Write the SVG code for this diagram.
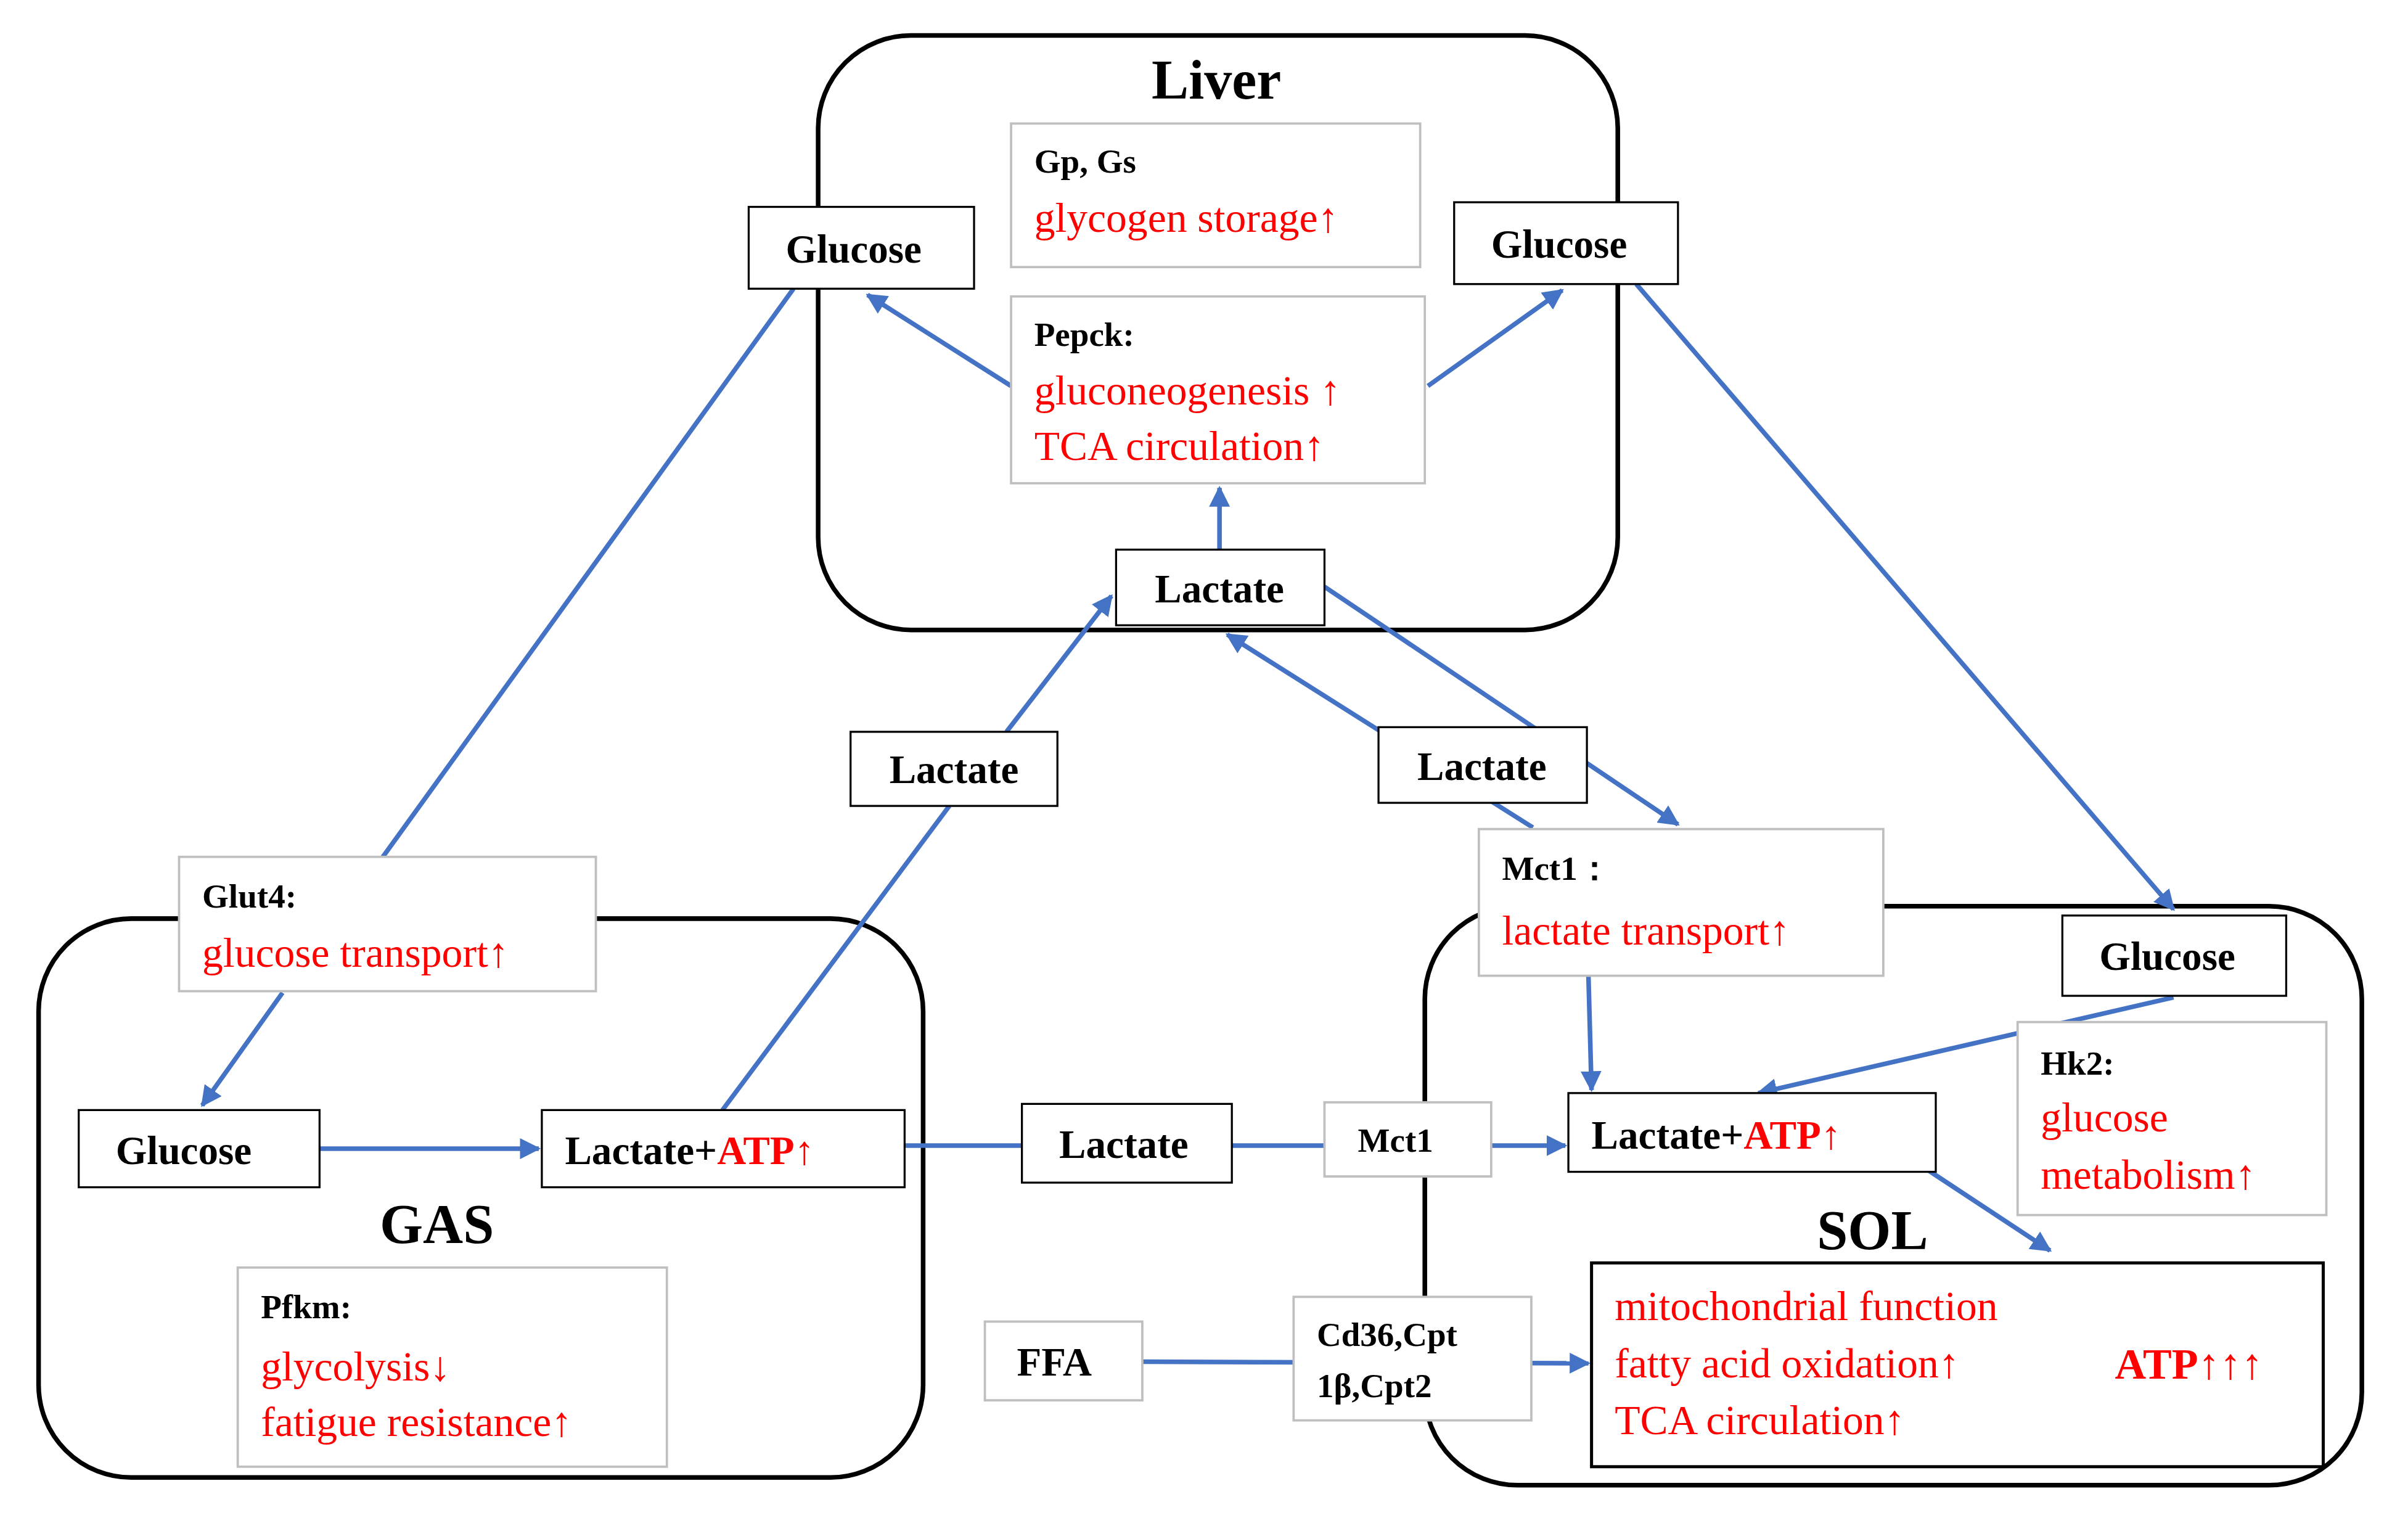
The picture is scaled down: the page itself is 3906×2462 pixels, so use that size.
<svg xmlns="http://www.w3.org/2000/svg" width="3906" height="2462" viewBox="0 0 3906 2462">
<defs>
<marker id="ah" viewBox="0 0 10 10" refX="9" refY="5" markerWidth="4.5" markerHeight="4.5" orient="auto"><path d="M0,0 L10,5 L0,10 z" fill="#4472C4"/></marker>
<style>
.org{fill:none;stroke:#000;stroke-width:3}
.bb{fill:#fff;stroke:#000;stroke-width:1.3}
.gb{fill:#fff;stroke:#BFBFBF;stroke-width:1.5}
.mb{fill:#fff;stroke:#000;stroke-width:2}
.t{font-family:"Liberation Serif",serif;font-weight:bold;font-size:26px;fill:#000}
.h{font-family:"Liberation Serif",serif;font-weight:bold;font-size:36px;fill:#000}
.s{font-family:"Liberation Serif",serif;font-weight:bold;font-size:22px;fill:#000}
.r{font-family:"Liberation Serif",serif;font-size:27px;fill:#FF0000}
.rb{font-family:"Liberation Serif",serif;font-weight:bold;fill:#FF0000}
.c{fill:none;stroke:#4472C4;stroke-width:3}
.a{marker-end:url(#ah)}
</style>
</defs>
<rect width="3906" height="2462" fill="#fff"/>
<g transform="scale(2.504)">
<g id="organs">
<rect class="org" x="530" y="23" width="518" height="385" rx="60"/>
<rect class="org" x="25" y="595" width="573" height="362" rx="60"/>
<rect class="org" x="923" y="587" width="607" height="375" rx="60"/>
<text class="h" x="788" y="64" text-anchor="middle">Liver</text>
<text class="h" x="283" y="805" text-anchor="middle">GAS</text>
<text class="h" x="1213" y="809" text-anchor="middle">SOL</text>
</g>
<g id="connectors">
<path class="c a" d="M655,250 L562,191"/>
<path class="c a" d="M925,250 L1012,188"/>
<path class="c a" d="M790,356 L790,316"/>
<path class="c" d="M514,187 L248,555"/>
<path class="c a" d="M183,643 L131,716"/>
<path class="c a" d="M1060,184 L1408,589"/>
<path class="c a" d="M207,744 L349,744"/>
<path class="c" d="M468,719 L615,522"/>
<path class="c a" d="M652,474 L720,386"/>
<path class="c a" d="M858,380 L1087,534"/>
<path class="c a" d="M993,536 L795,411"/>
<path class="c a" d="M1029,632 L1031,706"/>
<path class="c a" d="M586,742 L1014,742"/>
<path class="c a" d="M1408,646 L1139,708"/>
<path class="c a" d="M1240,752 L1328,810"/>
<path class="c a" d="M740,882 L1029,883"/>
</g>
<g id="gp"><rect class="gb" x="655" y="80" width="265" height="93"/><text class="s" x="670" y="112">Gp, Gs</text><text class="r" x="670" y="150">glycogen  storage↑</text></g>
<g id="glucose-liver-l"><rect class="bb" x="485" y="134" width="146" height="53"/><text class="t" x="553" y="170" text-anchor="middle">Glucose</text></g>
<g id="glucose-liver-r"><rect class="bb" x="942" y="131" width="145" height="53"/><text class="t" x="1010" y="167" text-anchor="middle">Glucose</text></g>
<g id="pepck"><rect class="gb" x="655" y="192" width="268" height="121"/><text class="s" x="670" y="224">Pepck:</text><text class="r" x="670" y="262">gluconeogenesis  ↑</text><text class="r" x="670" y="298">TCA circulation↑</text></g>
<g id="lactate-liver"><rect class="bb" x="723" y="356" width="135" height="49"/><text class="t" x="790" y="390" text-anchor="middle">Lactate</text></g>
<g id="lactate-l"><rect class="bb" x="551" y="474" width="134" height="48"/><text class="t" x="618" y="507" text-anchor="middle">Lactate</text></g>
<g id="lactate-r"><rect class="bb" x="893" y="471" width="135" height="49"/><text class="t" x="960" y="505" text-anchor="middle">Lactate</text></g>
<g id="mct1"><rect class="gb" x="958" y="537" width="262" height="95"/><text class="s" x="973" y="570">Mct1：</text><text class="r" x="973" y="612">lactate transport↑</text></g>
<g id="glut4"><rect class="gb" x="116" y="555" width="270" height="87"/><text class="s" x="131" y="588">Glut4:</text><text class="r" x="131" y="626">glucose transport↑</text></g>
<g id="glucose-gas"><rect class="bb" x="51" y="719" width="156" height="50"/><text class="t" x="119" y="754" text-anchor="middle">Glucose</text></g>
<g id="lat-gas"><rect class="bb" x="351" y="719" width="235" height="50"/><text class="t" x="366" y="754">Lactate+<tspan fill="#FF0000">ATP↑</tspan></text></g>
<g id="lactate-mid"><rect class="bb" x="662" y="715" width="136" height="51"/><text class="t" x="728" y="750" text-anchor="middle">Lactate</text></g>
<g id="mct1-small"><rect class="gb" x="858" y="714" width="108" height="48"/><text class="s" x="904" y="746" text-anchor="middle">Mct1</text></g>
<g id="lat-sol"><rect class="bb" x="1016" y="708" width="238" height="51"/><text class="t" x="1031" y="744">Lactate+<tspan fill="#FF0000">ATP↑</tspan></text></g>
<g id="glucose-sol"><rect class="bb" x="1336" y="593" width="145" height="52"/><text class="t" x="1404" y="628" text-anchor="middle">Glucose</text></g>
<g id="hk2"><rect class="gb" x="1307" y="662" width="200" height="125"/><text class="s" x="1322" y="696">Hk2:</text><text class="r" x="1322" y="733">glucose</text><text class="r" x="1322" y="770">metabolism↑</text></g>
<g id="pfkm"><rect class="gb" x="154" y="821" width="278" height="129"/><text class="s" x="169" y="854">Pfkm:</text><text class="r" x="169" y="894">glycolysis↓</text><text class="r" x="169" y="930">fatigue resistance↑</text></g>
<g id="ffa"><rect class="gb" x="638" y="856" width="102" height="51"/><text class="t" x="683" y="891" text-anchor="middle">FFA</text></g>
<g id="cd36"><rect class="gb" x="838" y="840" width="154" height="80"/><text class="s" x="853" y="872">Cd36,Cpt</text><text class="s" x="853" y="905">1β,Cpt2</text></g>
<g id="mito"><rect class="mb" x="1031" y="818" width="474" height="132"/><text class="r" x="1046" y="855">mitochondrial  function</text><text class="r" x="1046" y="892">fatty acid oxidation↑</text><text class="r" x="1046" y="929">TCA circulation↑</text><text class="rb" x="1370" y="893" font-size="28">ATP↑↑↑</text></g>
</g>
</svg>
